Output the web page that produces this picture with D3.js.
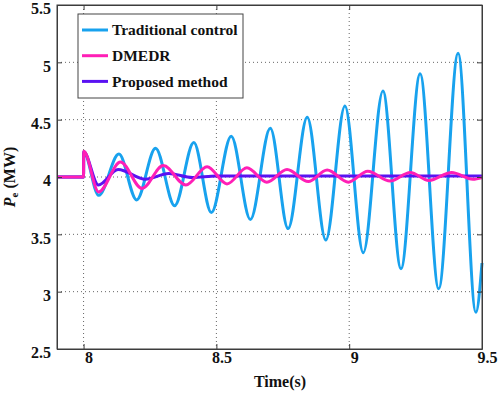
<!DOCTYPE html>
<html>
<head>
<meta charset="utf-8">
<script src="https://cdn.jsdelivr.net/npm/d3@7/dist/d3.min.js"></script>
<style>
  body { margin: 0; background: #fff; }
  text { font-family: "Liberation Serif", "Times New Roman", serif; }
</style>
</head>
<body>
<div id="chart"></div>
<script>
// chart data (peaks / troughs of each trace)
const seriesNames = ["Traditional control", "DMEDR", "Proposed method"];

const tradT = [7.9, 8.0, 8.0005, 8.057, 8.133, 8.20, 8.271, 8.343, 8.415, 8.481, 8.556, 8.628, 8.703,
  8.77, 8.842, 8.912, 8.984, 9.053, 9.127, 9.195, 9.267, 9.337, 9.41, 9.477, 9.5];
const tradP = [4.0, 4.0, 4.22, 3.84, 4.20, 3.80, 4.25, 3.75, 4.30, 3.69, 4.355, 3.63, 4.425,
  3.55, 4.52, 3.45, 4.62, 3.34, 4.75, 3.20, 4.90, 3.025, 5.08, 2.82, 3.25];

const dmedrT = [7.9, 8.0, 8.0005, 8.057, 8.139, 8.22, 8.30, 8.385, 8.465, 8.54, 8.615, 8.69, 8.766,
  8.846, 8.917, 8.997, 9.07, 9.154, 9.23, 9.30, 9.386, 9.466, 9.5];
const dmedrP = [4.0, 4.0, 4.225, 3.87, 4.13, 3.90, 4.10, 3.93, 4.09, 3.94, 4.08, 3.955, 4.065,
  3.96, 4.06, 3.955, 4.05, 3.965, 4.04, 3.97, 4.04, 3.98, 3.995];

const propT = [7.9, 8.0, 8.0005, 8.056, 8.13, 8.233, 8.32, 8.41, 8.5, 9.5];
const propP = [4.0, 4.0, 4.22, 3.93, 4.065, 3.98, 4.03, 3.995, 4.008, 4.008];

const xTicks = [8, 8.5, 9, 9.5];
const yTicks = [2.5, 3, 3.5, 4, 4.5, 5, 5.5];
const colors = ["#18a2ee", "#ff1fb6", "#5a12f2"];

const width = 498, height = 394;
const margin = {top: 5, right: 16, bottom: 45, left: 57};
const iw = width - margin.left - margin.right;
const ih = height - margin.top - margin.bottom;

const svg = d3.select("#chart").append("svg")
  .attr("width", width)
  .attr("height", height);

const g = svg.append("g").attr("transform", `translate(${margin.left},${margin.top})`);

const x = d3.scaleLinear().domain([7.9, 9.5]).range([0, iw]);
const y = d3.scaleLinear().domain([2.5, 5.5]).range([ih, 0]);

// dotted grid
g.append("g").selectAll("line")
  .data(xTicks.filter(d => d < 9.5))
  .join("line")
  .attr("x1", d => x(d)).attr("x2", d => x(d))
  .attr("y1", 0).attr("y2", ih)
  .attr("stroke", "#666").attr("stroke-dasharray", "1,3");
g.append("g").selectAll("line")
  .data(yTicks.filter(d => d > 2.5 && d < 5.5))
  .join("line")
  .attr("y1", d => y(d)).attr("y2", d => y(d))
  .attr("x1", 0).attr("x2", iw)
  .attr("stroke", "#666").attr("stroke-dasharray", "1,3");

// traces
const line = d3.line()
  .x(d => x(d[0]))
  .y(d => y(d[1]))
  .curve(d3.curveMonotoneX);

const traces = [
  {name: seriesNames[0], data: d3.zip(tradT, tradP), color: colors[0]},
  {name: seriesNames[2], data: d3.zip(propT, propP), color: colors[2]},
  {name: seriesNames[1], data: d3.zip(dmedrT, dmedrP), color: colors[1]}
];

g.append("g").selectAll("path")
  .data(traces)
  .join("path")
  .attr("d", d => line(d.data))
  .attr("fill", "none")
  .attr("stroke", d => d.color)
  .attr("stroke-width", 3)
  .attr("stroke-linejoin", "round");

// axes (ticks inside, box on)
const axisColor = "#3c3c3c";
const xAxis = g.append("g").attr("transform", `translate(0,${ih})`)
  .call(d3.axisBottom(x).tickValues(xTicks).tickSize(-5).tickSizeOuter(0).tickFormat(d => d));
const yAxis = g.append("g")
  .call(d3.axisLeft(y).tickValues(yTicks).tickSize(-5).tickSizeOuter(0).tickFormat(d => d));
g.append("g").call(d3.axisTop(x).tickValues(xTicks).tickSize(-5).tickSizeOuter(0).tickFormat(""));
g.append("g").attr("transform", `translate(${iw},0)`)
  .call(d3.axisRight(y).tickValues(yTicks).tickSize(-5).tickSizeOuter(0).tickFormat(""));

g.selectAll(".domain, .tick line").attr("stroke", axisColor);
g.selectAll(".tick text")
  .attr("font-family", "Liberation Serif")
  .attr("font-weight", "bold")
  .attr("font-size", 16)
  .attr("fill", "#111");
xAxis.selectAll(".tick text").attr("dx", 5).attr("y", 3);
yAxis.selectAll(".tick text").attr("dy", "0.55em").attr("x", -6);

g.append("rect")
  .attr("width", iw).attr("height", ih)
  .attr("fill", "none").attr("stroke", axisColor);

// axis titles
svg.append("text")
  .attr("x", 280).attr("y", 387)
  .attr("text-anchor", "middle")
  .attr("font-weight", "bold")
  .attr("font-size", 16)
  .attr("fill", "#111")
  .text("Time(s)");

const yl = svg.append("text")
  .attr("transform", `translate(15,${margin.top + y(4)}) rotate(-90)`)
  .attr("text-anchor", "middle")
  .attr("font-weight", "bold")
  .attr("font-size", 16)
  .attr("fill", "#111");
yl.append("tspan").attr("font-style", "italic").text("P");
yl.append("tspan").attr("font-size", 11).attr("dy", 3).text("e");
yl.append("tspan").attr("dy", -3).text(" (MW)");

// legend
const legend = svg.append("g").attr("transform", "translate(78,14)");
legend.append("rect")
  .attr("width", 165).attr("height", 84)
  .attr("fill", "#fff").attr("stroke", "#444");
const items = legend.selectAll("g.item")
  .data([0, 1, 2])
  .join("g")
  .attr("class", "item")
  .attr("transform", i => `translate(0,${16 + i * 25.7})`);
items.append("line")
  .attr("x1", 4).attr("x2", 30)
  .attr("stroke", i => colors[i]).attr("stroke-width", 3);
items.append("text")
  .attr("x", 34).attr("dy", "0.35em")
  .attr("font-weight", "bold")
  .attr("font-size", 15.5)
  .attr("fill", "#111")
  .text(i => seriesNames[i]);
</script>
</body>
</html>
